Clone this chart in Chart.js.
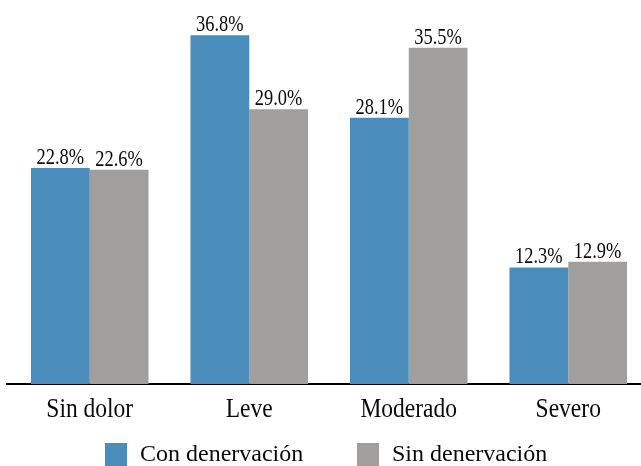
<!DOCTYPE html>
<html>
<head>
<meta charset="utf-8">
<script src="https://cdn.jsdelivr.net/npm/chart.js@4.4.1/dist/chart.umd.min.js"></script>
<style>
  html, body { margin: 0; padding: 0; background: #ffffff; overflow: hidden; }
  #wrap { width: 648px; height: 466px; position: relative; }
</style>
</head>
<body>
<div id="wrap"><canvas id="chart"></canvas></div>
<script>
// Pain level categories and percentage of patients per group
const categories = ['Sin dolor', 'Leve', 'Moderado', 'Severo'];
const conDenervacion = [22.8, 36.8, 28.1, 12.3];
const sinDenervacion = [22.6, 29.0, 35.5, 12.9];
const seriesNames = ['Con denervación', 'Sin denervación'];

const BLUE = '#4a8dbc';
const GRAY = '#a09f9e';
const SERIF = '"Liberation Serif", "Times New Roman", serif';

// Draws text squeezed horizontally by factor sx
function condensedText(ctx, text, x, y, size, sx, align) {
  ctx.save();
  ctx.font = size + 'px ' + SERIF;
  ctx.translate(x, y);
  ctx.scale(sx, 1);
  ctx.textAlign = align || 'center';
  ctx.textBaseline = 'alphabetic';
  ctx.fillStyle = '#0a0a0a';
  ctx.fillText(text, 0, 0);
  ctx.restore();
}

const labelsPlugin = {
  id: 'labelsPlugin',
  afterDatasetsDraw(chart) {
    const ctx = chart.ctx;
    const area = chart.chartArea;
    // short extension of the baseline to the left of the plot area
    ctx.save();
    ctx.strokeStyle = '#000000';
    ctx.lineWidth = 2;
    ctx.beginPath();
    ctx.moveTo(6, area.bottom);
    ctx.lineTo(area.left + 1, area.bottom);
    ctx.stroke();
    ctx.restore();
    // value labels above each bar
    chart.data.datasets.forEach((ds, di) => {
      const meta = chart.getDatasetMeta(di);
      meta.data.forEach((bar, i) => {
        condensedText(ctx, ds.data[i].toFixed(1) + '%', bar.x, bar.y - 4, 23, 0.8, 'center');
      });
    });
    // category labels under the axis
    const xs = chart.scales.x;
    categories.forEach((c, i) => {
      condensedText(ctx, c, xs.getPixelForValue(i), 417, 28, 0.84, 'center');
    });
    // legend
    const legendX = [105, 357];
    chart.data.datasets.forEach((ds, di) => {
      ctx.save();
      ctx.fillStyle = ds.backgroundColor;
      ctx.fillRect(legendX[di], 443, 22, 24);
      ctx.restore();
      condensedText(ctx, ds.label, legendX[di] + 35, 461, 24, 1.0, 'left');
    });
  }
};

new Chart(document.getElementById('chart'), {
  type: 'bar',
  data: {
    labels: categories,
    datasets: [
      { label: seriesNames[0], data: conDenervacion, backgroundColor: BLUE },
      { label: seriesNames[1], data: sinDenervacion, backgroundColor: GRAY }
    ]
  },
  options: {
    responsive: true,
    maintainAspectRatio: false,
    animation: false,
    layout: { padding: { left: 10, right: 0, top: 5, bottom: 82 } },
    datasets: { bar: { barPercentage: 1.0, categoryPercentage: 0.737 } },
    plugins: {
      legend: { display: false },
      tooltip: { enabled: false }
    },
    scales: {
      x: {
        display: true,
        grid: { display: false, drawTicks: false },
        border: { display: true, color: '#000000', width: 2 },
        ticks: { display: false }
      },
      y: {
        display: false,
        min: 0,
        max: 40
      }
    }
  },
  plugins: [labelsPlugin]
});
</script>
</body>
</html>
